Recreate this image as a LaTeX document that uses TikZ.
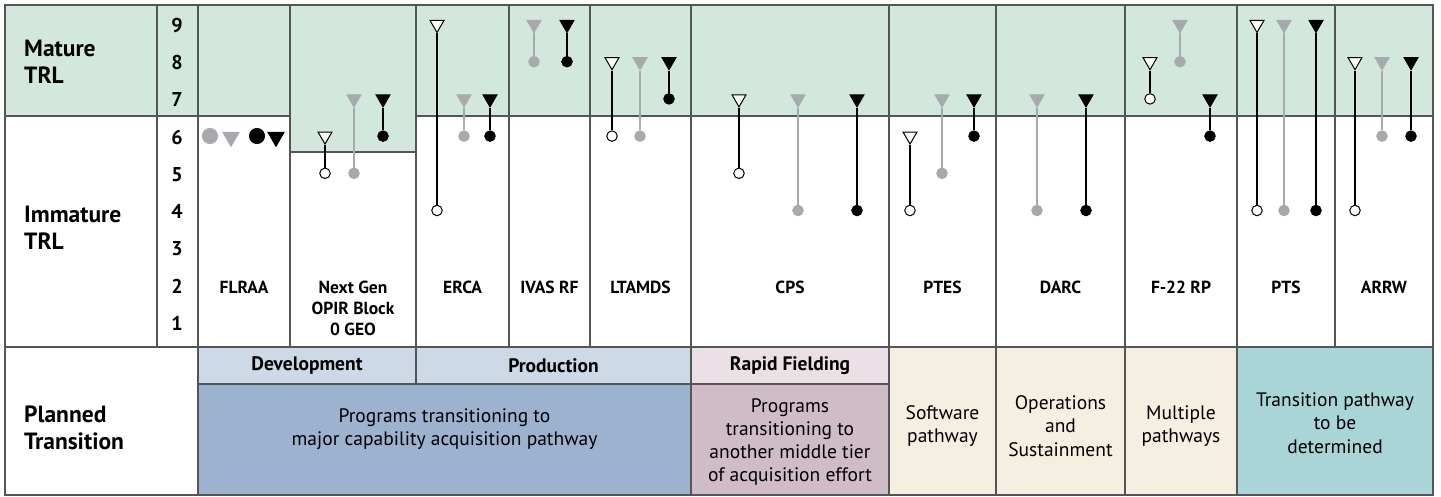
\documentclass[tikz,border=0pt]{standalone}
\usepackage{fontspec}
\setmainfont{PT Sans}
\usetikzlibrary{shapes.geometric,positioning}

\definecolor{matgreen}{HTML}{D3E8DC}
\definecolor{devblue}{HTML}{CDD9E6}
\definecolor{mcablue}{HTML}{9DB2CF}
\definecolor{rfpink}{HTML}{EAE0E6}
\definecolor{mtapink}{HTML}{CFBCC7}
\definecolor{pathbeige}{HTML}{F5EFE2}
\definecolor{tbdteal}{HTML}{A9D5D8}
\definecolor{markgray}{HTML}{A7A9AC}
\definecolor{gridline}{HTML}{555555}

\begin{document}
\begin{tikzpicture}[x=1pt, y=-1pt,
  cellrule/.style={draw=gridline, line width=1.2},
  rowlab/.style={anchor=west, align=left, inner sep=0, font=\bfseries\fontsize{23.5}{27}\selectfont},
  trlnum/.style={inner sep=0, font=\bfseries\fontsize{20}{24}\selectfont},
  prog/.style={anchor=north, align=center, inner sep=0, font=\bfseries\fontsize{17.5}{21}\selectfont},
  phase/.style={inner sep=0, font=\bfseries\fontsize{19.5}{23}\selectfont},
  pathtext/.style={inner sep=0, align=center, font=\fontsize{19.5}{23.3}\selectfont},
  dot/.style 2 args={circle, minimum size=10.5, inner sep=0, line width=1, fill=#1, draw=#2},
  tri/.style 2 args={regular polygon, regular polygon sides=3, shape border rotate=180, minimum size=16, inner sep=0, line width=1, fill=#1, draw=#2},
]
\fill[white] (0,0) rectangle (1441,497);
\useasboundingbox (0,0) rectangle (1441,497);

% mature band and transition fills
\fill[matgreen] (5,5) rectangle (1433,116);
\fill[matgreen] (290,116) rectangle (416,152);
\fill[devblue] (198,347) rectangle (691,384);
\fill[rfpink] (691,347) rectangle (889,384);
\fill[mcablue] (198,384) rectangle (691,495);
\fill[mtapink] (691,384) rectangle (889,495);
\fill[pathbeige] (889,347) rectangle (1237,495);
\fill[tbdteal] (1237,347) rectangle (1433,495);

% table rules
\draw[cellrule] (5,5) rectangle (1433,495);
\draw[cellrule] (5,116) -- (290,116) (290,152) -- (416,152) (416,116) -- (1433,116);
\draw[cellrule] (5,347) -- (1433,347) (198,384) -- (889,384) (416,347) -- (416,384);
\draw[cellrule] (157,5) -- (157,347);
\foreach \x in {198,290,416,509,590,691,889,996,1125,1237,1335}
  \draw[cellrule] (\x,5) -- (\x,347);
\foreach \x in {198,691,889,996,1125,1237}
  \draw[cellrule] (\x,347) -- (\x,495);

% row labels and TRL scale
\node[rowlab] (mature) at (24,62) {Mature\\TRL};
\node[rowlab] (immature) at (24,228) {Immature\\TRL};
\node[rowlab] (planned) at (24,428) {Planned\\Transition};
\foreach \n in {1,...,9}
  \node[trlnum] (trl\n) at (177,{25.5+37.2*(9-\n)}) {\n};

% programs
\foreach \a/\b/\name [count=\i] in {198/290/FLRAA, 290/416/{Next Gen\\OPIR Block\\0 GEO}, 416/509/ERCA, 509/590/IVAS RF, 590/691/LTAMDS, 691/889/CPS, 889/996/PTES, 996/1125/DARC, 1125/1237/F-22 RP, 1237/1335/PTS, 1335/1433/ARRW}
  \node[prog] (prog\i) at ({(\a+\b)/2},281) {\name};

% legend in FLRAA column
\node[dot={markgray}{markgray}, minimum size=15] (keyg) at (210,136) {};
\node[tri={markgray}{markgray}, minimum size=18.5] (keygt) at (231,137) {};
\node[dot={black}{black}, minimum size=15] (keyb) at (257,136) {};
\node[tri={black}{black}, minimum size=18.5] (keybt) at (276,137) {};

% TRL at start and at transition
\foreach \x/\f/\d/\t/\c [count=\i] in {325/white/black/6/5, 354/markgray/markgray/7/5, 383/black/black/7/6,
    437/white/black/9/4, 464/markgray/markgray/7/6, 490/black/black/7/6,
    534/markgray/markgray/9/8, 567/black/black/9/8,
    612/white/black/8/6, 640/markgray/markgray/8/6, 669/black/black/8/7,
    739/white/black/7/5, 798/markgray/markgray/7/4, 857/black/black/7/4,
    910/white/black/6/4, 942/markgray/markgray/7/5, 974/black/black/7/6,
    1037/markgray/markgray/7/4, 1086/black/black/7/4,
    1150/white/black/8/7, 1180/markgray/markgray/9/8, 1210/black/black/7/6,
    1257/white/black/9/4, 1284/markgray/markgray/9/4, 1316/black/black/9/4,
    1355/white/black/8/4, 1382/markgray/markgray/8/6, 1411/black/black/8/6} {
  \node[dot={\f}{\d}] (c\i) at (\x,{24.5+37.2*(9-\c)}) {};
  \node[tri={\f}{\d}] (t\i) at (\x,{24.5+37.2*(9-\t)}) {};
  \draw[draw=\d, line width=1.3] (c\i) -- (t\i);
}

% planned transition
\node[phase] (dev) at (307,366) {Development};
\node[phase] (prod) at (553.5,366) {Production};
\node[phase] (rapid) at (790,366) {Rapid Fielding};
\node[pathtext] (major) at (444.5,429) {Programs transitioning to\\major capability acquisition pathway};
\node[pathtext] (mta) at (790,442) {Programs\\transitioning to\\another middle tier\\of acquisition effort};
\node[pathtext] (sw) at (942.5,426) {Software\\pathway};
\node[pathtext] (ops) at (1060.5,426) {Operations\\and\\Sustainment};
\node[pathtext] (multi) at (1181,426) {Multiple\\pathways};
\node[pathtext] (tbd) at (1335,423) {Transition pathway\\to be\\determined};
\end{tikzpicture}
\end{document}
